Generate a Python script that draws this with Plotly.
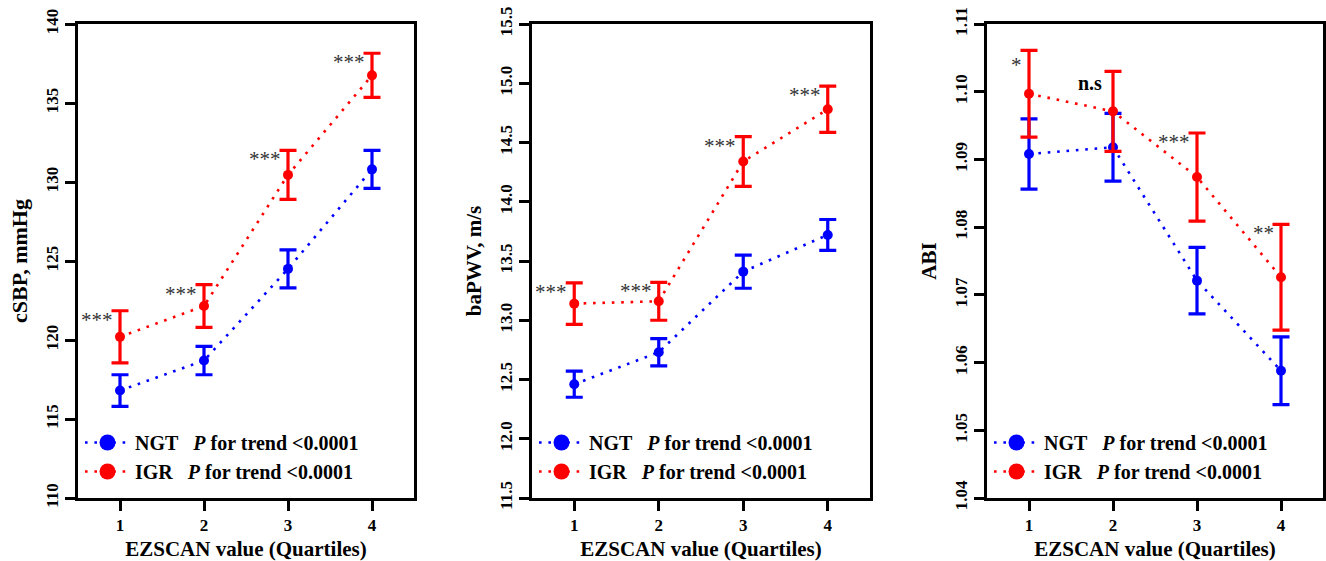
import plotly.graph_objects as go

quartiles = [1, 2, 3, 4]

csbp_ngt = [116.8, 118.7, 124.5, 130.8]
csbp_ngt_se = [1.0, 0.9, 1.2, 1.2]
csbp_igr = [120.2, 122.15, 130.45, 136.75]
csbp_igr_se = [1.65, 1.35, 1.55, 1.4]

pwv_ngt = [12.46, 12.73, 13.41, 13.72]
pwv_ngt_se = [0.11, 0.115, 0.14, 0.13]
pwv_igr = [13.14, 13.16, 14.34, 14.78]
pwv_igr_se = [0.175, 0.16, 0.21, 0.195]

abi_ngt = [1.0908, 1.0918, 1.0721, 1.0588]
abi_ngt_se = [0.0052, 0.005, 0.0049, 0.005]
abi_igr = [1.0997, 1.0971, 1.0874, 1.0726]
abi_igr_se = [0.0064, 0.0059, 0.0065, 0.0078]

sig_csbp = ["***", "***", "***", "***"]
sig_pwv = ["***", "***", "***", "***"]
sig_abi = ["*", "n.s", "***", "**"]

y_titles = ["cSBP, mmHg", "baPWV, m/s", "ABI"]
x_title = "EZSCAN value (Quartiles)"
y_ranges = [[110, 140], [11.5, 15.5], [1.04, 1.11]]
y_dticks = [5, 0.5, 0.01]
y_formats = ["d", ".1f", ".2f"]
group_names = ["NGT", "IGR"]

BLUE = "#0000FF"
RED = "#FF0000"
FONT = "Liberation Serif"

W, H = 1326, 561
x_domains = [[78 / W, 414 / W], [532 / W, 870 / W], [987 / W, 1323 / W]]
y_domain = [63 / H, 537 / H]
y_title_sizes = [22, 21, 21]

panels = [
    (csbp_ngt, csbp_ngt_se, csbp_igr, csbp_igr_se, sig_csbp),
    (pwv_ngt, pwv_ngt_se, pwv_igr, pwv_igr_se, sig_pwv),
    (abi_ngt, abi_ngt_se, abi_igr, abi_igr_se, sig_abi),
]

fig = go.Figure()
annotations = []
layout = {}

for i, (ngt, ngt_se, igr, igr_se, sig) in enumerate(panels):
    n = i + 1
    xa = "x" if n == 1 else f"x{n}"
    ya = "y" if n == 1 else f"y{n}"
    lg = "legend" if n == 1 else f"legend{n}"
    for vals, se, col in [(ngt, ngt_se, BLUE), (igr, igr_se, RED)]:
        fig.add_trace(go.Scatter(
            x=quartiles, y=vals, xaxis=xa, yaxis=ya, mode="lines+markers",
            line=dict(color=col, width=2.6, dash="2.6px,6.8px"),
            marker=dict(color=col, size=10),
            error_y=dict(type="data", array=se, visible=True, color=col,
                         thickness=3.2, width=8.5),
            showlegend=False, hoverinfo="skip"))
    for name, col in zip(group_names, [BLUE, RED]):
        fig.add_trace(go.Scatter(
            x=[None], y=[None], xaxis=xa, yaxis=ya, mode="lines+markers",
            name=f"{name}&nbsp;&nbsp;&nbsp;<i>P</i> for trend &lt;0.0001",
            line=dict(color=col, width=2.6, dash="2.6px,6.8px"),
            marker=dict(color=col, size=18),
            showlegend=True, legend=lg))
    # significance labels, placed just below the top cap of the IGR error bar
    for q, v, e, s in zip(quartiles, igr, igr_se, sig):
        is_ns = s == "n.s"
        annotations.append(dict(
            x=q, y=v + e, xref=xa, yref=ya, text=s, showarrow=False,
            xanchor="right", yanchor="middle",
            xshift=-9 if is_ns else -5,
            yshift=-12 if is_ns else (-15 if s == "*" else -9),
            font=dict(family=FONT, size=20 if is_ns else 21,
                      color="black" if is_ns else "#333333",
                      weight="bold" if is_ns else "normal")))
    axis_common = dict(
        showline=True, linecolor="black", linewidth=3, mirror=True,
        ticks="outside", ticklen=10, tickwidth=3, tickcolor="black",
        showgrid=False, zeroline=False,
        tickfont=dict(family=FONT, size=17, color="black", weight="bold"),
    )
    layout["xaxis" if n == 1 else f"xaxis{n}"] = dict(
        axis_common, domain=x_domains[i], anchor=ya, range=[0.5, 4.5],
        tickvals=quartiles, ticktext=[str(q) for q in quartiles],
        title=dict(text=x_title, standoff=8,
                   font=dict(family=FONT, size=21, color="black", weight="bold")))
    layout["yaxis" if n == 1 else f"yaxis{n}"] = dict(
        axis_common, domain=y_domain, anchor=xa, range=y_ranges[i],
        dtick=y_dticks[i], tick0=y_ranges[i][0], tickformat=y_formats[i],
        tickangle=-90,
        title=dict(text=y_titles[i], standoff=10,
                   font=dict(family=FONT, size=y_title_sizes[i], color="black",
                             weight="bold")))
    layout[lg] = dict(
        x=x_domains[i][0] + 2 / W, y=(H - 423) / H, xanchor="left", yanchor="top",
        bgcolor="rgba(0,0,0,0)", borderwidth=0, itemwidth=45, tracegroupgap=0,
        font=dict(family=FONT, size=20, color="black", weight="bold"))

fig.update_layout(
    width=W, height=H, margin=dict(l=0, r=0, t=0, b=0, autoexpand=False),
    paper_bgcolor="white", plot_bgcolor="white",
    annotations=annotations, **layout)

fig.write_html(
    "out.html", config={"displayModeBar": False},
    post_script="document.body.style.margin='0';document.body.style.overflow='hidden';")
